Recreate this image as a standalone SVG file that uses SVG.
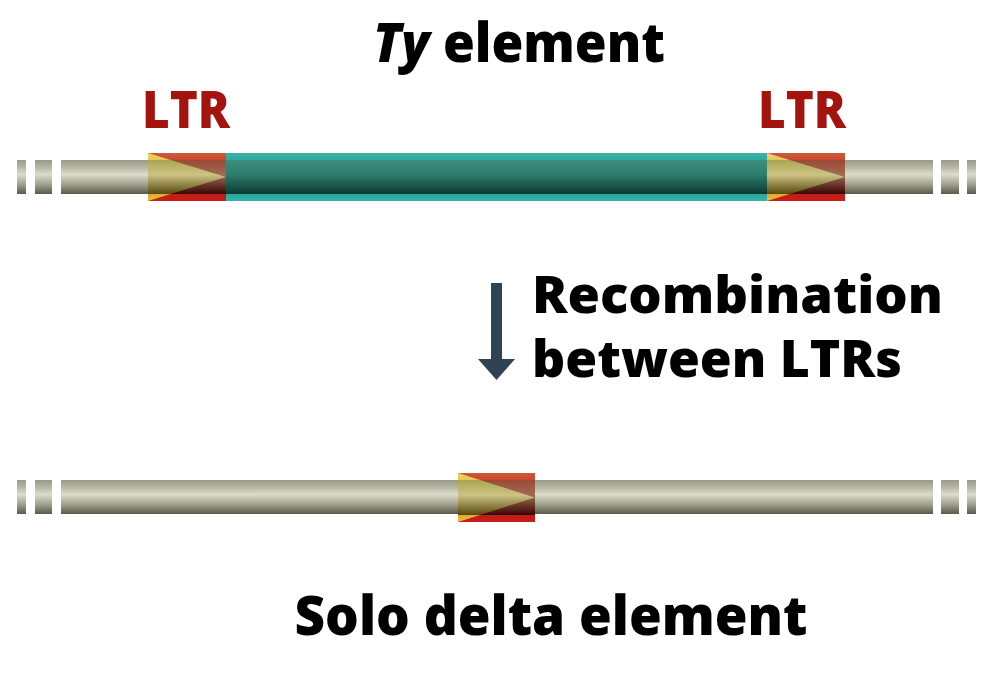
<svg xmlns="http://www.w3.org/2000/svg" width="994" height="686" viewBox="0 0 994 686">
  <defs>
    <style>
      .lbl { font-family: "Open Sans", "Liberation Sans", sans-serif; font-weight: 800; fill: #000; }
      .ltr { font-family: "Open Sans", "Liberation Sans", sans-serif; font-weight: 800; fill: #a3140f; }
      .tube { fill: url(#gTube); }
    </style>
    <linearGradient id="gTube" x1="0" y1="0" x2="0" y2="1">
      <stop offset="0" stop-color="#9a9a88"/>
      <stop offset="0.2" stop-color="#b4b4a2"/>
      <stop offset="0.42" stop-color="#dcdcca"/>
      <stop offset="0.7" stop-color="#a4a492"/>
      <stop offset="1" stop-color="#5a5a4a"/>
    </linearGradient>
    <linearGradient id="gTeal" x1="0" y1="0" x2="0" y2="1">
      <stop offset="0" stop-color="#3ab2aa"/>
      <stop offset="0.145" stop-color="#30a8a0"/>
      <stop offset="0.146" stop-color="#3c8e7e"/>
      <stop offset="0.45" stop-color="#2f7d6d"/>
      <stop offset="0.85" stop-color="#0a3a30"/>
      <stop offset="0.854" stop-color="#2aa8a0"/>
      <stop offset="1" stop-color="#36b2aa"/>
    </linearGradient>
    <linearGradient id="gRed" x1="0" y1="0" x2="0" y2="1">
      <stop offset="0" stop-color="#d0583a"/>
      <stop offset="0.145" stop-color="#c44a32"/>
      <stop offset="0.146" stop-color="#9c4a34"/>
      <stop offset="0.45" stop-color="#a06a54"/>
      <stop offset="0.85" stop-color="#3a0806"/>
      <stop offset="0.854" stop-color="#c01c16"/>
      <stop offset="1" stop-color="#c81e18"/>
    </linearGradient>
    <linearGradient id="gYel" x1="0" y1="0" x2="0" y2="1">
      <stop offset="0" stop-color="#f0d468"/>
      <stop offset="0.145" stop-color="#e6c658"/>
      <stop offset="0.146" stop-color="#aca450"/>
      <stop offset="0.45" stop-color="#ccc484"/>
      <stop offset="0.85" stop-color="#5a4a10"/>
      <stop offset="0.854" stop-color="#e0a830"/>
      <stop offset="1" stop-color="#f0c040"/>
    </linearGradient>
  </defs>

  <rect width="994" height="686" fill="#ffffff"/>

  <g id="title">
    <text class="lbl" x="519" y="62" font-size="55" text-anchor="middle" textLength="292" lengthAdjust="spacingAndGlyphs"><tspan font-style="italic">Ty</tspan> element</text>
  </g>

  <g id="ltr-label-left">
    <text class="ltr" x="186" y="128" font-size="51" text-anchor="middle" textLength="88" lengthAdjust="spacingAndGlyphs">LTR</text>
  </g>
  <g id="ltr-label-right">
    <text class="ltr" x="802" y="128" font-size="51" text-anchor="middle" textLength="88" lengthAdjust="spacingAndGlyphs">LTR</text>
  </g>

  <g id="ty-element">
    <rect class="tube" x="17" y="160" width="9" height="34"/>
    <rect class="tube" x="35" y="160" width="17" height="34"/>
    <rect class="tube" x="61" y="160" width="88" height="34"/>
    <rect x="226" y="153" width="542" height="48" fill="url(#gTeal)"/>
    <g id="ltr-left">
      <rect x="148" y="153" width="78" height="48" fill="url(#gRed)"/>
      <polygon points="148,153 226,177 148,201" fill="url(#gYel)"/>
    </g>
    <g id="ltr-right">
      <rect x="767" y="153" width="78" height="48" fill="url(#gRed)"/>
      <polygon points="767,153 845,177 767,201" fill="url(#gYel)"/>
    </g>
    <rect class="tube" x="845" y="160" width="88" height="34"/>
    <rect class="tube" x="941" y="160" width="18" height="34"/>
    <rect class="tube" x="967" y="160" width="9" height="34"/>
  </g>

  <g id="connectors">
    <rect x="491" y="283" width="11" height="78" fill="#2f4354"/>
    <polygon points="478,359 515,359 496.5,380" fill="#2f4354"/>
  </g>

  <g id="recombination-label">
    <text class="lbl" x="532" y="313" font-size="51" textLength="411" lengthAdjust="spacingAndGlyphs">Recombination</text>
    <text class="lbl" x="532" y="377" font-size="51" textLength="370" lengthAdjust="spacingAndGlyphs">between LTRs</text>
  </g>

  <g id="solo-delta">
    <rect class="tube" x="17" y="480" width="9" height="34"/>
    <rect class="tube" x="35" y="480" width="17" height="34"/>
    <rect class="tube" x="61" y="480" width="398" height="34"/>
    <rect class="tube" x="535" y="480" width="398" height="34"/>
    <rect class="tube" x="941" y="480" width="18" height="34"/>
    <rect class="tube" x="967" y="480" width="9" height="34"/>
    <g id="ltr-solo">
      <rect x="458" y="473" width="77" height="49" fill="url(#gRed)"/>
      <polygon points="458,473 535,497.5 458,522" fill="url(#gYel)"/>
    </g>
  </g>

  <g id="solo-label">
    <text class="lbl" x="551" y="635" font-size="55" text-anchor="middle" textLength="513" lengthAdjust="spacingAndGlyphs">Solo delta element</text>
  </g>
</svg>
